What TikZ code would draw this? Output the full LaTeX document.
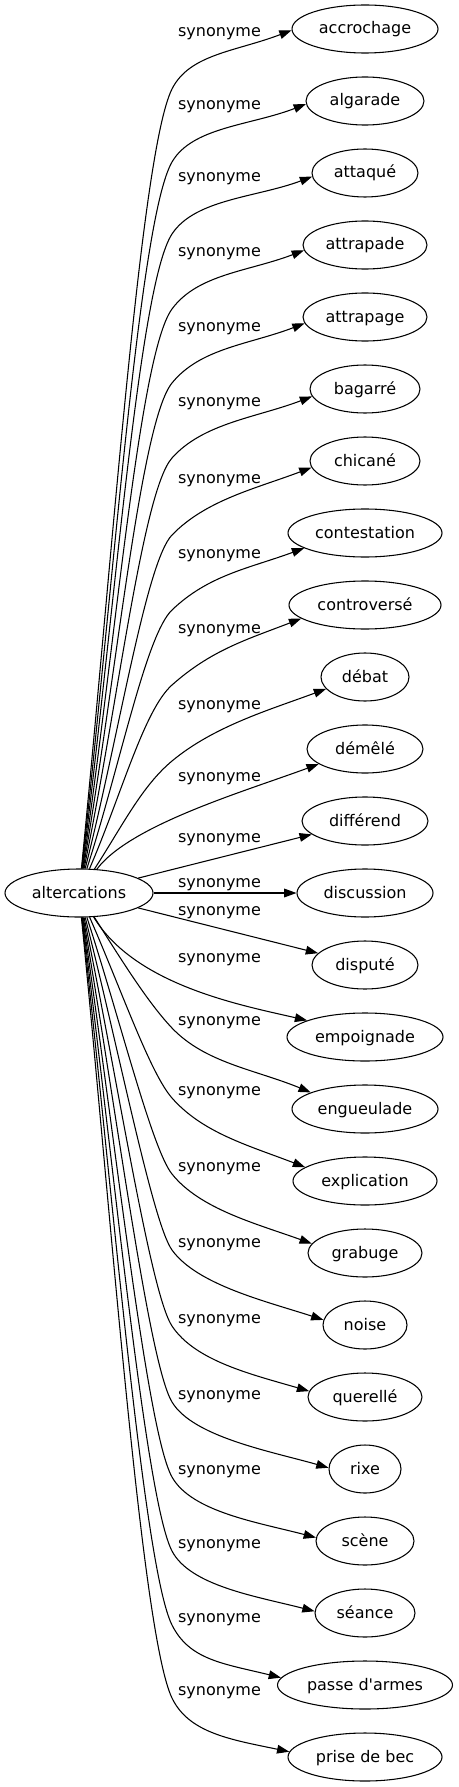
\documentclass[tikz,border=0pt]{standalone}
\usepackage{fontspec}
\setmainfont{DejaVu Sans}
\usetikzlibrary{arrows.meta,shapes.geometric}
\tikzset{
  txt/.style={inner sep=0pt, text height=8.5pt, text depth=1pt, font=\fontsize{12}{14}\selectfont},
  word/.style={txt, ellipse, draw, line width=0.8pt, minimum height=36pt},
  rel/.style={txt},
  link/.style={line width=0.8pt, -{Triangle[length=9.2pt,width=6.5pt]}},
}
\begin{document}
\begin{tikzpicture}[x=0.75pt,y=-0.75pt]
\useasboundingbox (0,0) rectangle (458,1787);
\node[word, minimum width=111pt] (alt) at (79,893) {altercations};

% upper edges
\foreach \nK/\nW/\nR/\nLy/\nOff in {
 0/accrochage/73/32/2,
 1/algarade/59/105/4,
 2/attaqué/53/177/4,
 3/attrapade/62/252/6,
 4/attrapage/62/326/7,
 5/bagarré/55/401/8,
 6/chicané/55/478/7,
 7/contestation/77/553/15,
 8/controversé/76/628/14,
 9/débat/44/704/12}
{
  \pgfmathsetmacro\nTy{29+72*\nK}
  \node[word, minimum width={\nR*1.5pt}] (t\nK) at (365,\nTy) {\nW};
  \node[rel] (l\nK) at (219.5,\nLy) {synonyme};
  \pgfmathsetmacro\nA{0.5+0.078*\nK}
  \pgfmathsetmacro\nMy{\nLy+57}
  \pgfmathsetmacro\nH{869-\nMy}
  \pgfmathsetmacro\nCax{84+0.035*\nH+40*(1-\nH/800)}
  \pgfmathsetmacro\nCay{869-0.4*\nH}
  \pgfmathsetmacro\nLen{max(0.08*\nH,25)}
  \pgfmathsetmacro\nCbx{172-\nA*\nLen}
  \pgfmathsetmacro\nCby{\nMy+\nLen}
  \pgfmathsetmacro\nCcx{172+\nA*35}
  \pgfmathsetmacro\nCcy{\nMy-35}
  \pgfmathsetmacro\nDx{\nR*sqrt(1-(\nOff/24)*(\nOff/24))}
  \pgfmathsetmacro\nAng{180+atan(\nOff/\nDx)}
  \pgfmathsetmacro\nCdx{365-\nDx-60*cos(20)}
  \pgfmathsetmacro\nCdy{\nTy+\nOff+60*sin(20)}
  \coordinate (m\nK) at (172,\nMy);
  \draw[link] (alt) .. controls (\nCax,\nCay) and (\nCbx,\nCby) .. (m\nK) .. controls (\nCcx,\nCcy) and (\nCdx,\nCdy) .. (t\nK.\nAng);
}

% middle edges
\node[word, minimum width=87pt] (t10) at (365,749) {démêlé};
\node[rel] (l10) at (219.5,776) {synonyme};
\draw[link] (alt) .. controls (130,825) and (244.5,791.4) .. (t10.198.3);

\node[word, minimum width=94.5pt] (t11) at (365,821) {différend};
\node[rel] (l11) at (219.5,837) {synonyme};
\draw[link] (alt) -- (t11);

\node[word, minimum width=102pt] (t12) at (365,893) {discussion};
\node[rel] (l12) at (219.5,882) {synonyme};
\draw[link] (alt) -- (t12);

\node[word, minimum width=79.5pt] (t13) at (365,965) {disputé};
\node[rel] (l13) at (219.5,910) {synonyme};
\draw[link] (alt) -- (t13);

\node[word, minimum width=117pt] (t14) at (365,1037) {empoignade};
\node[rel] (l14) at (219.5,957) {synonyme};
\draw[link] (alt) .. controls (135,985) and (240,1005) .. (t14.164.6);

% lower edges
\foreach \nK/\nW/\nR/\nLy/\nA/\nOff/\nPhi in {
 15/engueulade/73/1020/0.95/-16/23,
 16/explication/72/1090/0.88/-13/22,
 17/grabuge/57/1166/0.80/-9/20,
 18/noise/42/1242/0.72/-5/18,
 19/querellé/57/1318/0.66/-5/17,
 20/rixe/36/1394/0.60/-1/16,
 21/scène/49/1469/0.56/-3/15,
 22/séance/50/1543/0.52/-1/15,
 23/passe d\textquotesingle armes/87.5/1617/0.50/-7/14,
 24/prise de bec/77/1690/0.48/-4/13}
{
  \pgfmathsetmacro\nTy{29+72*\nK}
  \node[word, minimum width={\nR*1.5pt}] (t\nK) at (365,\nTy) {\nW};
  \node[rel] (l\nK) at (219.5,\nLy) {synonyme};
  \pgfmathsetmacro\nMy{\nLy+8}
  \pgfmathsetmacro\nH{\nMy-917}
  \pgfmathsetmacro\nCax{84+0.035*\nH+40*(1-\nH/800)}
  \pgfmathsetmacro\nCay{917+0.4*\nH}
  \pgfmathsetmacro\nLen{max(0.08*\nH,25)}
  \pgfmathsetmacro\nCbx{172-\nA*\nLen}
  \pgfmathsetmacro\nCby{\nMy-\nLen}
  \pgfmathsetmacro\nCcx{172+\nA*35}
  \pgfmathsetmacro\nCcy{\nMy+35}
  \pgfmathsetmacro\nDx{\nR*sqrt(1-(\nOff/24)*(\nOff/24))}
  \pgfmathsetmacro\nAng{180+atan(\nOff/\nDx)}
  \pgfmathsetmacro\nCdx{365-\nDx-60*cos(\nPhi)}
  \pgfmathsetmacro\nCdy{\nTy+\nOff-60*sin(\nPhi)}
  \coordinate (m\nK) at (172,\nMy);
  \draw[link] (alt) .. controls (\nCax,\nCay) and (\nCbx,\nCby) .. (m\nK) .. controls (\nCcx,\nCcy) and (\nCdx,\nCdy) .. (t\nK.\nAng);
}
\end{tikzpicture}
\end{document}
